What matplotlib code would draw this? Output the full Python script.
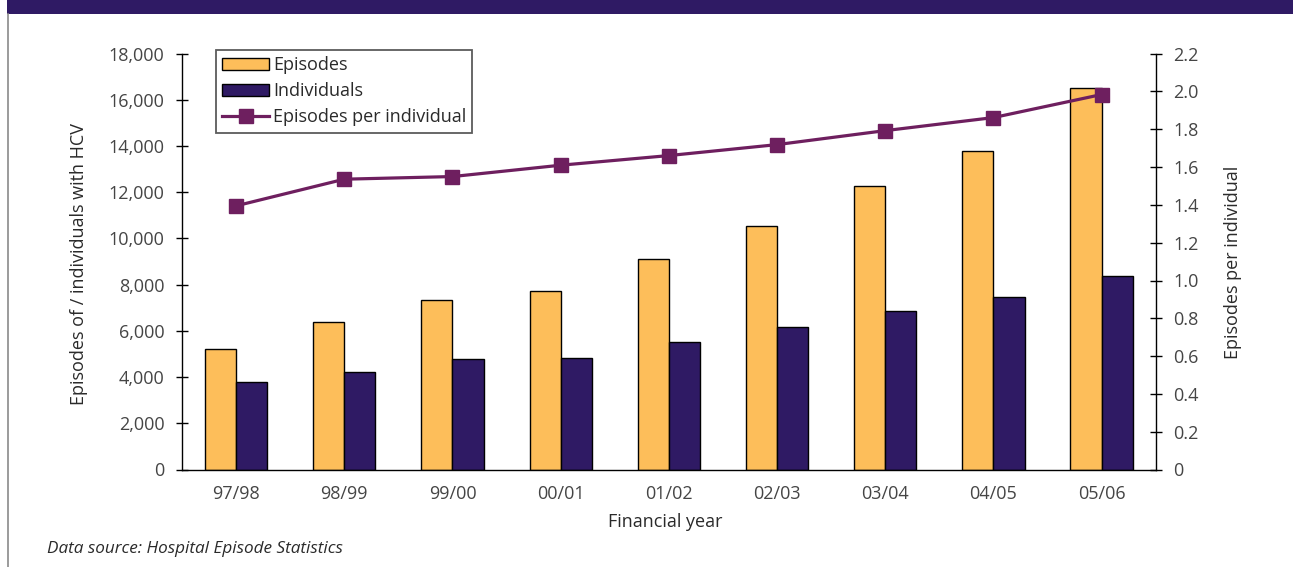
import matplotlib
matplotlib.use("Agg")
import matplotlib.pyplot as plt
import numpy as np
from matplotlib.patches import Rectangle
from matplotlib.lines import Line2D

years = ["97/98", "98/99", "99/00", "00/01", "01/02", "02/03", "03/04", "04/05", "05/06"]
episodes = [5220, 6390, 7350, 7730, 9120, 10560, 12280, 13790, 16530]
individuals = [3800, 4210, 4800, 4830, 5540, 6190, 6880, 7480, 8390]
ep_per_ind = [1.395, 1.536, 1.550, 1.610, 1.661, 1.719, 1.793, 1.862, 1.984]
left_ticks = [0, 2000, 4000, 6000, 8000, 10000, 12000, 14000, 16000, 18000]
right_ticks = [0, 0.2, 0.4, 0.6, 0.8, 1.0, 1.2, 1.4, 1.6, 1.8, 2.0, 2.2]
right_labels = ["0", "0.2", "0.4", "0.6", "0.8", "1.0", "1.2", "1.4", "1.6", "1.8", "2.0", "2.2"]

ORANGE = "#FDBE5A"
NAVY = "#2F1A64"
PLUM = "#6E1F5F"
TXT = "#454545"
TTL = "#2a2a2a"

plt.rcParams['font.family'] = ['Open Sans', 'DejaVu Sans']
FS = 13

fig = plt.figure(figsize=(12.93, 5.67), dpi=100)
W, H = 1293, 567

# top band and left border
fig.patches.append(Rectangle((7 / W, 1 - 14 / H), 1 - 7 / W, 14 / H, transform=fig.transFigure,
                             facecolor=NAVY, edgecolor='none', zorder=0))
fig.lines.append(Line2D([7.5 / W, 7.5 / W], [0, 1 - 14 / H], transform=fig.transFigure,
                        color="#8a8a8a", lw=1.2))

ax = fig.add_axes([182 / W, 1 - 469.5 / H, (1155.7 - 182) / W, (469.5 - 53.7) / H])
x = np.arange(len(years))
bw = 0.288
b1 = ax.bar(x - bw / 2, episodes, bw, color=ORANGE, edgecolor='black', linewidth=1.0, label="Episodes")
b2 = ax.bar(x + bw / 2, individuals, bw, color=NAVY, edgecolor='black', linewidth=1.0, label="Individuals")
ax.set_xlim(-0.5, len(years) - 0.5)
ax.set_ylim(0, 18000)
ax.set_yticks(left_ticks)
ax.set_yticklabels([f"{v:,}" for v in left_ticks])
ax.set_xticks(x)
ax.set_xticklabels(years)
ax.tick_params(axis='y', direction='inout', length=9, width=1, pad=8, labelsize=FS, labelcolor=TXT)
ax.tick_params(axis='x', length=0, pad=11, labelsize=FS, labelcolor=TXT)
ax.spines['top'].set_visible(False)
ax.spines['right'].set_visible(False)
for s in ['left', 'bottom']:
    ax.spines[s].set_linewidth(1.0)

ax2 = ax.twinx()
ln, = ax2.plot(x, ep_per_ind, color=PLUM, lw=2.3, marker='s', markersize=10,
               markerfacecolor=PLUM, markeredgecolor=PLUM, label="Episodes per individual")
ax2.set_ylim(0, 2.2)
ax2.set_yticks(right_ticks)
ax2.set_yticklabels(right_labels)
ax2.tick_params(axis='y', direction='inout', length=9, width=1, pad=8, labelsize=FS, labelcolor=TXT)
for s in ['top', 'left', 'bottom']:
    ax2.spines[s].set_visible(False)
ax2.spines['right'].set_linewidth(1.0)

fig.text(79 / W, 1 - 264 / H, "Episodes of / individuals with HCV", rotation=90,
         ha='center', va='center', fontsize=FS, color=TTL)
fig.text(1233 / W, 1 - 262 / H, "Episodes per individual", rotation=90,
         ha='center', va='center', fontsize=FS, color=TTL)
fig.text(665 / W, 1 - 522 / H, "Financial year", ha='center', va='center', fontsize=FS, color=TTL)
fig.text(47 / W, 1 - 549 / H, "Data source: Hospital Episode Statistics", ha='left', va='center',
         fontsize=12.3, style='italic', color=TTL)

leg = ax2.legend([b1, b2, ln], ["Episodes", "Individuals", "Episodes per individual"],
                 loc='upper left', bbox_to_anchor=(216 / W, 1 - 132 / H, 256 / W, 82 / H),
                 bbox_transform=fig.transFigure, mode='expand',
                 fontsize=FS, frameon=True, fancybox=False, handlelength=2.6, handleheight=0.72,
                 handletextpad=0.22, labelspacing=0.44, borderpad=0.35, borderaxespad=0)
leg.get_frame().set_edgecolor('#333333')
leg.get_frame().set_linewidth(1.3)
for t in leg.get_texts():
    t.set_color(TTL)

fig.savefig("out.png", dpi=100)
